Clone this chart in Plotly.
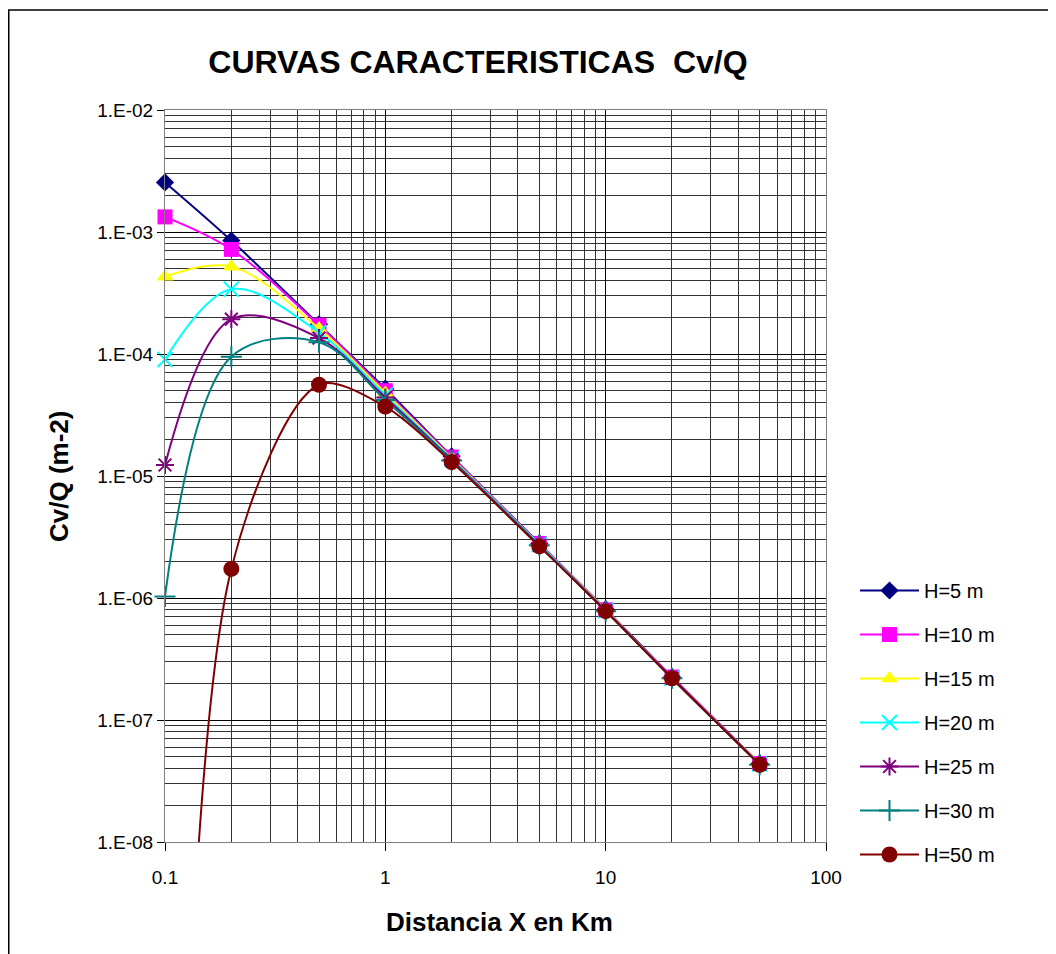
import plotly.graph_objects as go

distance_km = [0.1, 0.2, 0.5, 1, 2, 5, 10, 20, 50]

h5 = [2.55e-3, 8.5e-4, 1.75e-4, 5.2e-5, 1.45e-5, 2.8e-6, 8.1e-7, 2.25e-7, 4.4e-8]
h10 = [1.33e-3, 7.2e-4, 1.72e-4, 5.0e-5, 1.43e-5, 2.8e-6, 8.0e-7, 2.25e-7, 4.4e-8]
h15 = [4.3e-4, 5.2e-4, 1.62e-4, 4.8e-5, 1.4e-5, 2.75e-6, 8.0e-7, 2.2e-7, 4.4e-8]
h20 = [9.0e-5, 3.4e-4, 1.5e-4, 4.6e-5, 1.38e-5, 2.75e-6, 7.9e-7, 2.2e-7, 4.35e-8]
h25 = [1.23e-5, 1.93e-4, 1.35e-4, 4.4e-5, 1.36e-5, 2.7e-6, 7.9e-7, 2.2e-7, 4.35e-8]
h30 = [1.03e-6, 9.5e-5, 1.25e-4, 4.2e-5, 1.34e-5, 2.7e-6, 7.8e-7, 2.2e-7, 4.3e-8]
h50 = [1e-17, 1.73e-6, 5.6e-5, 3.7e-5, 1.3e-5, 2.65e-6, 7.8e-7, 2.2e-7, 4.3e-8]

series_names = ["H=5 m", "H=10 m", "H=15 m", "H=20 m", "H=25 m", "H=30 m", "H=50 m"]
series_values = [h5, h10, h15, h20, h25, h30, h50]
colors = ["#000080", "#FF00FF", "#FFFF00", "#00FFFF", "#800080", "#008080", "#800000"]
symbols = ["diamond", "square", "triangle-up", "x-thin-open", "asterisk-open", "cross-thin-open", "circle"]
sizes = [14, 15, 15, 15, 15, 15, 16]
smoothings = [1.0, 1.0, 1.0, 1.0, 1.0, 1.0, 0.85]

y_tickvals = [1e-8, 1e-7, 1e-6, 1e-5, 1e-4, 1e-3, 1e-2]
y_ticktext = ["1.E-08", "1.E-07", "1.E-06", "1.E-05", "1.E-04", "1.E-03", "1.E-02"]
x_tickvals = [0.1, 1, 10, 100]
x_ticktext = ["0.1", "1", "10", "100"]

# page body has an 8px margin: figure coords = page coords - 8
W, H = 1048, 946
L, T, PW, PH = 157, 102, 661, 732
B = H - T - PH
R = W - L - PW
plot_bottom = T + PH

fig = go.Figure()
for i, (name, vals) in enumerate(zip(series_names, series_values)):
    open_sym = symbols[i].endswith("open")
    fig.add_trace(go.Scatter(
        x=distance_km, y=vals, name=name, mode="lines+markers",
        line=dict(color=colors[i], width=2, shape="spline", smoothing=smoothings[i]),
        marker=dict(symbol=symbols[i], size=sizes[i], color=colors[i],
                    line=dict(color=colors[i], width=2 if open_sym else 0)),
        legendgroup=name, cliponaxis=False,
    ))

FONT = "Liberation Sans, Arial, sans-serif"
grid_major = "#000000"
grid_minor = "#333333"

fig.update_layout(
    width=W, height=H,
    margin=dict(l=L, r=R, t=T, b=B),
    paper_bgcolor="white", plot_bgcolor="white",
    font=dict(family=FONT, color="black", size=19),
    title=dict(text="<b>CURVAS CARACTERISTICAS  Cv/Q</b>", font=dict(size=32, family=FONT),
               xref="paper", x=0.4735, xanchor="center",
               yref="container", y=1 - 54 / H, yanchor="middle"),
    showlegend=True,
    legend=dict(x=(847 - L) / PW, xanchor="left", y=(plot_bottom - 563) / PH, yanchor="top",
                font=dict(size=20, family=FONT), tracegroupgap=15,
                bgcolor="rgba(0,0,0,0)", itemwidth=59),
    xaxis=dict(type="log", range=[-1, 2], tickvals=x_tickvals, ticktext=x_ticktext,
               showgrid=True, gridcolor=grid_major, gridwidth=1,
               minor=dict(showgrid=True, gridcolor=grid_minor, gridwidth=1, dtick="D1"),
               ticks="outside", ticklen=8, tickcolor="black", ticklabelstandoff=10,
               showline=True, linecolor="#808080", mirror=True, zeroline=False,
               tickfont=dict(size=19)),
    yaxis=dict(type="log", range=[-8, -2], tickvals=y_tickvals, ticktext=y_ticktext,
               showgrid=True, gridcolor=grid_major, gridwidth=1,
               minor=dict(showgrid=True, gridcolor=grid_minor, gridwidth=1, dtick="D1"),
               ticks="outside", ticklen=7, tickcolor="black",
               showline=True, linecolor="#808080", mirror=True, zeroline=False,
               tickfont=dict(size=19)),
)

fig.add_annotation(text="<b>Cv/Q (m-2)</b>", xref="paper", yref="paper",
                   x=(51 - L) / PW, y=0.5, textangle=-90, showarrow=False,
                   font=dict(size=26, family=FONT), xanchor="center", yanchor="middle")
fig.add_annotation(text="<b>Distancia X en Km</b>", xref="paper", yref="paper",
                   x=(491 - L) / PW, y=(plot_bottom - 914) / PH, showarrow=False,
                   font=dict(size=26, family=FONT), xanchor="center", yanchor="middle")

# outer chart frame
fig.add_shape(type="rect", xref="paper", yref="paper",
              x0=(0.75 - L) / PW, x1=(W + 5 - L) / PW,
              y0=(plot_bottom - H - 5) / PH, y1=(plot_bottom - 2) / PH,
              line=dict(color="black", width=1.5), fillcolor="rgba(0,0,0,0)", layer="below")

fig.write_html("out.html")
